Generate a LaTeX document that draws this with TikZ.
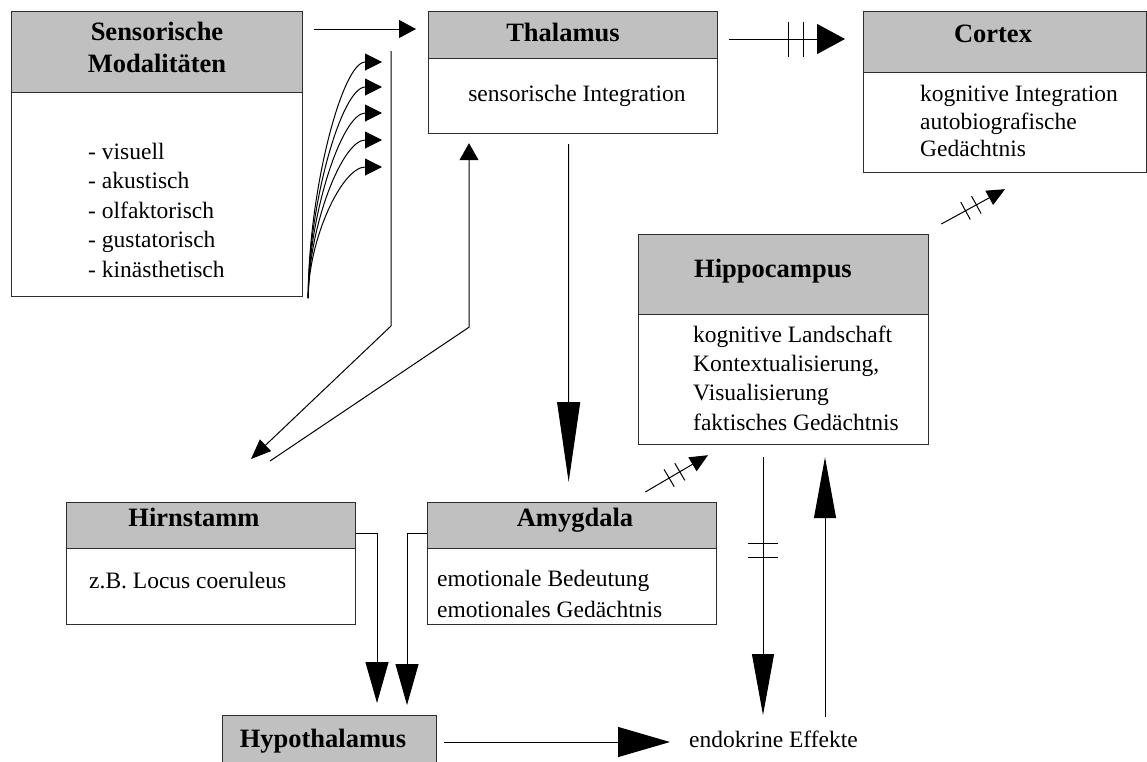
\documentclass[tikz,border=0pt]{standalone}
\usepackage{fontspec}
\setmainfont{Liberation Serif}
\usetikzlibrary{arrows.meta,calc}
\definecolor{hdrgray}{RGB}{192,192,192}
\definecolor{boxline}{RGB}{45,45,45}
\newcommand\myhatch[4]{\draw[conn] ($(#1)!#3!(#2)!#4!90:(#2)$) -- ($(#1)!#3!(#2)!#4!-90:(#2)$);}
\begin{document}
\begin{tikzpicture}[x=1pt,y=-1pt,
  hdrbox/.style={draw=boxline, fill=hdrgray, line width=1.3pt, inner sep=0pt, anchor=north west},
  bodybox/.style={draw=boxline, fill=white, line width=1.2pt, inner sep=0pt, anchor=north west},
  ttl/.style={font=\bfseries\fontsize{26.5}{32}\selectfont, inner sep=0pt, align=center},
  txt/.style={font=\fontsize{23.5}{29.5}\selectfont, inner sep=0pt, align=left},
  conn/.style={line width=1pt, black}]
\useasboundingbox (0,0) rectangle (1147,761);
\clip (0,0) rectangle (1147,761);

% ---------- boxes ----------
\node[bodybox, minimum width=291pt, minimum height=204pt] (sensB) at (11,92) {};
\node[hdrbox,  minimum width=291pt, minimum height=81pt]  (sensH) at (11,11) {};
\node[bodybox, minimum width=289pt, minimum height=75pt]  (thalB) at (428,58) {};
\node[hdrbox,  minimum width=289pt, minimum height=47pt]  (thalH) at (428,11) {};
\node[bodybox, minimum width=283pt, minimum height=100pt] (cortB) at (863,72) {};
\node[hdrbox,  minimum width=283pt, minimum height=61pt]  (cortH) at (863,11) {};
\node[bodybox, minimum width=290pt, minimum height=130pt] (hipB) at (638,314) {};
\node[hdrbox,  minimum width=290pt, minimum height=80pt]  (hipH) at (638,234) {};
\node[bodybox, minimum width=289pt, minimum height=76pt]  (hirnB) at (66,548) {};
\node[hdrbox,  minimum width=289pt, minimum height=46pt]  (hirnH) at (66,502) {};
\node[bodybox, minimum width=289pt, minimum height=76pt]  (amyB) at (427,548) {};
\node[hdrbox,  minimum width=289pt, minimum height=46pt]  (amyH) at (427,502) {};
\node[hdrbox,  minimum width=214pt, minimum height=60pt]  (hypH) at (222,715) {};

% ---------- titles ----------
\node[ttl] (sensT) at (157,47) {Sensorische\\Modalitäten};
\node[ttl, anchor=base] (thalT) at (563,41) {Thalamus};
\node[ttl, anchor=base] (cortT) at (993,42) {Cortex};
\node[ttl, anchor=base] (hipT) at (773,277) {Hippocampus};
\node[ttl, anchor=base] (hirnT) at (194,526) {Hirnstamm};
\node[ttl, anchor=base] (amyT) at (575,526) {Amygdala};
\node[ttl, anchor=base] (hypT) at (323,747) {Hypothalamus};

% ---------- body texts ----------
\node[txt, anchor=west] (sensL) at (88,210) {- visuell\\- akustisch\\- olfaktorisch\\- gustatorisch\\- kinästhetisch};
\node[txt, anchor=base] (thalL) at (577,101) {sensorische Integration};
\node[txt, anchor=west, font=\fontsize{23.5}{27.5}\selectfont] (cortL) at (920,121) {kognitive Integration\\autobiografische\\Gedächtnis};
\node[txt, anchor=west, font=\fontsize{23.5}{29.3}\selectfont] (hipL) at (693,378) {kognitive Landschaft\\Kontextualisierung,\\Visualisierung\\faktisches Gedächtnis};
\node[txt, anchor=base west] (hirnL) at (89,588) {z.B. Locus coeruleus};
\node[txt, anchor=west, font=\fontsize{23.5}{30.5}\selectfont] (amyL) at (437,594) {emotionale Bedeutung\\emotionales Gedächtnis};
\node[txt, anchor=base west] (endo) at (689,747) {endokrine Effekte};

% ---------- connectors ----------
% Sensorische -> Thalamus
\draw[conn, -{Triangle[length=17pt,width=18pt]}] ($(sensH.north east)+(11,18)$) -- ($(thalH.north west)+(-12,18)$);
% five curved arrows
\coordinate (cs) at ($(sensB.south east)+(5,1)$);
\foreach \yy/\k in {62/106,87/95,113/83,140/71,167/59}{
  \draw[conn, -{Triangle[length=17pt,width=17pt]}] (cs) .. controls +(0,-\k) and +(-40,0) .. ($(thalH.north west)+(-46,\yy-11)$);
}
% vertical line down to Hirnstamm
\draw[conn, -{Triangle[length=20pt,width=16pt]}] ($(thalH.north west)+(-37,40)$) -- ++(0,275) -- ($(hirnH.north west)+(185,-43)$);
% from Hirnstamm up to Thalamus
\draw[conn, -{Triangle[length=17pt,width=19pt]}] ($(hirnH.north west)+(204,-41)$) -- ($(thalB.south west)+(41,193)$) -- ($(thalB.south west)+(41,9)$);
% Thalamus -> Amygdala
\draw[conn, -{Triangle[length=80pt,width=23pt]}] ($(thalB.south)+(-4.5,10)$) -- ($(amyH.north)+(-3.5,-20)$);
% Thalamus -> Cortex
\coordinate (tc1) at ($(thalH.north east)+(11,28)$);
\coordinate (tc2) at ($(cortH.north west)+(-18,28)$);
\draw[conn, -{Triangle[length=28pt,width=30pt]}] (tc1) -- (tc2);
\myhatch{tc1}{tc2}{0.513}{17.5pt}
\myhatch{tc1}{tc2}{0.641}{17.5pt}
% Hippocampus -> Cortex
\coordinate (hc1) at ($(hipH.north east)+(12,-10)$);
\coordinate (hc2) at ($(cortB.south west)+(142,16)$);
\draw[conn, -{Triangle[length=18pt,width=16pt]}] (hc1) -- (hc2);
\myhatch{hc1}{hc2}{0.38}{10pt}
\myhatch{hc1}{hc2}{0.55}{10pt}
% Amygdala -> Hippocampus
\coordinate (ah1) at ($(amyH.north east)+(-72,-10)$);
\coordinate (ah2) at ($(hipB.south west)+(70,10)$);
\draw[conn, -{Triangle[length=18pt,width=16pt]}] (ah1) -- (ah2);
\myhatch{ah1}{ah2}{0.38}{10pt}
\myhatch{ah1}{ah2}{0.55}{10pt}
% Hirnstamm -> Hypothalamus
\draw[conn, -{Triangle[length=41pt,width=23pt]}] ($(hirnH.south east)+(0,-16)$) -| ($(hypH.north west)+(155,-12)$);
% Amygdala -> Hypothalamus
\draw[conn, -{Triangle[length=41pt,width=23pt]}] ($(amyH.south west)+(0,-16)$) -| ($(hypH.north west)+(185,-10)$);
% Hypothalamus -> endokrine Effekte
\draw[conn, -{Triangle[length=52pt,width=30pt]}] ($(hypH.north east)+(7,27)$) -- ($(endo.base west)+(-19,-5)$);
% Hippocampus -> endokrine Effekte
\coordinate (he1) at ($(hipB.south west)+(125,12)$);
\coordinate (he2) at ($(endo.base west)+(74,-32)$);
\draw[conn, -{Triangle[length=61pt,width=22pt]}] (he1) -- (he2);
\myhatch{he1}{he2}{0.336}{15pt}
\myhatch{he1}{he2}{0.39}{15pt}
% endokrine Effekte -> Hippocampus
\draw[conn, -{Triangle[length=61pt,width=22pt]}] ($(endo.base west)+(136,-30)$) -- ($(hipB.south west)+(187,12)$);
\end{tikzpicture}
\end{document}
